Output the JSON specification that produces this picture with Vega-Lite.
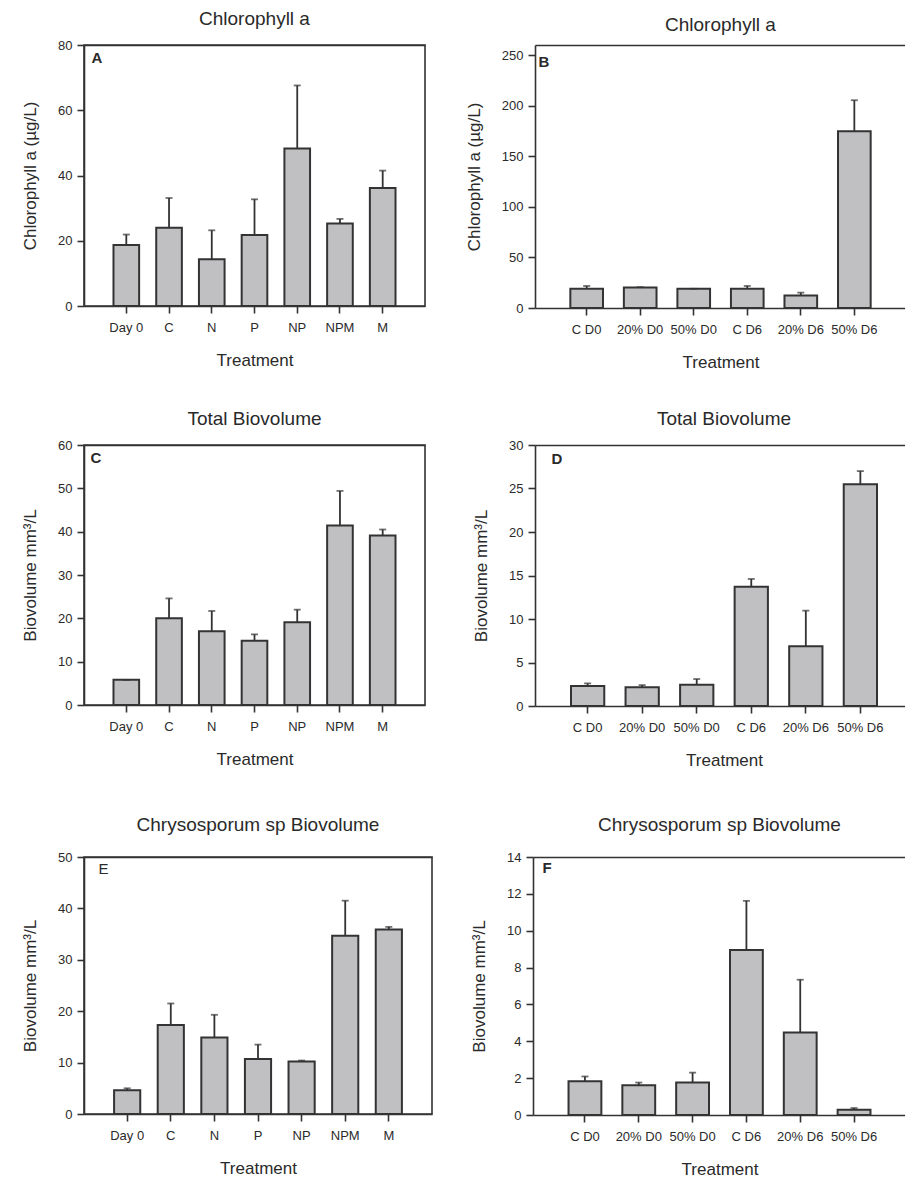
{
  "$schema": "https://vega.github.io/schema/vega-lite/v6.json",
  "padding": {"left": 20, "top": 9, "right": 0, "bottom": 0},
  "background": "white",
  "config": {
    "font": "Liberation Sans",
    "view": {"stroke": null},
    "title": {"fontSize": 19, "fontWeight": "normal", "color": "#2a2a2a", "frame": "group", "offset": 10},
    "axis": {"grid": false, "labelOverlap": false, "labelFontSize": 13, "titleFontSize": 17, "titleFontWeight": "normal", "labelColor": "#2a2a2a", "titleColor": "#2a2a2a", "domainColor": "#333333", "domainWidth": 1.6, "tickColor": "#333333", "tickWidth": 1.6, "tickSize": 7},
    "axisX": {"labelAngle": 0, "labelPadding": 8, "titlePadding": 18},
    "axisY": {"labelPadding": 5, "titlePadding": 18}
  },
  "datasets": {
    "A": [
      {"treatment": "Day 0", "mean": 18.7, "upper": 21.9},
      {"treatment": "C", "mean": 24.0, "upper": 33.1},
      {"treatment": "N", "mean": 14.3, "upper": 23.2},
      {"treatment": "P", "mean": 21.8, "upper": 32.7},
      {"treatment": "NP", "mean": 48.3, "upper": 67.6},
      {"treatment": "NPM", "mean": 25.3, "upper": 26.7},
      {"treatment": "M", "mean": 36.2, "upper": 41.5}
    ],
    "B": [
      {"treatment": "C D0", "mean": 19.0, "upper": 21.8},
      {"treatment": "20% D0", "mean": 20.3, "upper": 20.6},
      {"treatment": "50% D0", "mean": 19.0, "upper": 19.0},
      {"treatment": "C D6", "mean": 19.0, "upper": 21.8},
      {"treatment": "20% D6", "mean": 12.3, "upper": 15.2},
      {"treatment": "50% D6", "mean": 174.7, "upper": 205.4}
    ],
    "C": [
      {"treatment": "Day 0", "mean": 5.8, "upper": 5.8},
      {"treatment": "C", "mean": 20.0, "upper": 24.6},
      {"treatment": "N", "mean": 17.0, "upper": 21.7},
      {"treatment": "P", "mean": 14.8, "upper": 16.3},
      {"treatment": "NP", "mean": 19.1, "upper": 22.0},
      {"treatment": "NPM", "mean": 41.4, "upper": 49.4},
      {"treatment": "M", "mean": 39.1, "upper": 40.5}
    ],
    "D": [
      {"treatment": "C D0", "mean": 2.3, "upper": 2.6},
      {"treatment": "20% D0", "mean": 2.15, "upper": 2.4},
      {"treatment": "50% D0", "mean": 2.45, "upper": 3.1},
      {"treatment": "C D6", "mean": 13.7, "upper": 14.6},
      {"treatment": "20% D6", "mean": 6.86, "upper": 10.96},
      {"treatment": "50% D6", "mean": 25.5, "upper": 27.0}
    ],
    "E": [
      {"treatment": "Day 0", "mean": 4.6, "upper": 5.0},
      {"treatment": "C", "mean": 17.3, "upper": 21.5},
      {"treatment": "N", "mean": 14.9, "upper": 19.3},
      {"treatment": "P", "mean": 10.7, "upper": 13.5},
      {"treatment": "NP", "mean": 10.2, "upper": 10.4},
      {"treatment": "NPM", "mean": 34.7, "upper": 41.5},
      {"treatment": "M", "mean": 35.9, "upper": 36.4}
    ],
    "F": [
      {"treatment": "C D0", "mean": 1.83, "upper": 2.09},
      {"treatment": "20% D0", "mean": 1.61, "upper": 1.76},
      {"treatment": "50% D0", "mean": 1.76, "upper": 2.30},
      {"treatment": "C D6", "mean": 8.96, "upper": 11.62},
      {"treatment": "20% D6", "mean": 4.48, "upper": 7.34},
      {"treatment": "50% D6", "mean": 0.29, "upper": 0.38}
    ]
  },
  "spacing": 39,
  "vconcat": [
    {
      "spacing": 39,
      "hconcat": [
        {
          "width": 341, "height": 261,
          "view": {"stroke": "#333333", "strokeWidth": 1.6},
          "title": {"text": "Chlorophyll a"},
          "data": {"name": "A"},
          "resolve": {"axis": {"x": "independent"}},
          "layer": [
            {"mark": {"type": "bar", "fill": "#c0c0c3", "stroke": "#333333", "strokeWidth": 2},
             "encoding": {
               "x": {"field": "treatment", "type": "nominal", "sort": null, "scale": {"paddingInner": 0.4, "paddingOuter": 0.69}, "axis": {"orient": "bottom", "title": "Treatment"}},
               "y": {"field": "mean", "type": "quantitative", "title": "Chlorophyll a (µg/L)", "scale": {"domain": [0, 80]}, "axis": {"values": [0, 20, 40, 60, 80], "labelOverlap": false}}
             }},
            {"mark": {"type": "rule", "stroke": "#333333", "strokeWidth": 1.8},
             "encoding": {
               "x": {"field": "treatment", "type": "nominal", "sort": null, "axis": {"orient": "top", "labels": false, "ticks": false, "domain": true, "title": "A", "titleX": 7, "titleY": 17, "titleAlign": "left", "titleBaseline": "alphabetic", "titleFontWeight": "bold", "titleFontSize": 15, "titleAngle": 0}},
               "y": {"field": "mean", "type": "quantitative", "title": "Chlorophyll a (µg/L)"},
               "y2": {"field": "upper"}
             }},
            {"mark": {"type": "tick", "color": "#333333", "size": 7, "thickness": 1.8},
             "encoding": {
               "x": {"field": "treatment", "type": "nominal", "sort": null, "axis": null},
               "y": {"field": "upper", "type": "quantitative", "title": "Chlorophyll a (µg/L)"}
             }}
          ]
        },
        {
          "width": 371, "height": 263,
          "title": {"text": "Chlorophyll a"},
          "data": {"name": "B"},
          "resolve": {"axis": {"x": "independent"}},
          "layer": [
            {"mark": {"type": "bar", "fill": "#c0c0c3", "stroke": "#333333", "strokeWidth": 2},
             "encoding": {
               "x": {"field": "treatment", "type": "nominal", "sort": null, "scale": {"paddingInner": 0.39, "paddingOuter": 0.66}, "axis": {"orient": "bottom", "title": "Treatment"}},
               "y": {"field": "mean", "type": "quantitative", "title": "Chlorophyll a (µg/L)", "scale": {"domain": [0, 250]}, "axis": {"values": [0, 50, 100, 150, 200, 250], "labelOverlap": false}}
             }},
            {"mark": {"type": "rule", "stroke": "#333333", "strokeWidth": 1.8},
             "encoding": {
               "x": {"field": "treatment", "type": "nominal", "sort": null, "axis": {"orient": "top", "labels": false, "ticks": false, "domain": true, "title": "B", "titleX": 3, "titleY": 21, "titleAlign": "left", "titleBaseline": "alphabetic", "titleFontWeight": "bold", "titleFontSize": 15, "titleAngle": 0}},
               "y": {"field": "mean", "type": "quantitative", "title": "Chlorophyll a (µg/L)"},
               "y2": {"field": "upper"}
             }},
            {"mark": {"type": "tick", "color": "#333333", "size": 7, "thickness": 1.8},
             "encoding": {
               "x": {"field": "treatment", "type": "nominal", "sort": null, "axis": null},
               "y": {"field": "upper", "type": "quantitative", "title": "Chlorophyll a (µg/L)"}
             }}
          ]
        }
      ]
    },
    {
      "spacing": 47,
      "vconcat": [
        {
          "spacing": 46,
          "hconcat": [
            {
              "width": 341, "height": 260,
              "view": {"stroke": "#333333", "strokeWidth": 1.6},
              "title": {"text": "Total Biovolume"},
              "data": {"name": "C"},
              "resolve": {"axis": {"x": "independent"}},
              "layer": [
                {"mark": {"type": "bar", "fill": "#c0c0c3", "stroke": "#333333", "strokeWidth": 2},
                 "encoding": {
                   "x": {"field": "treatment", "type": "nominal", "sort": null, "scale": {"paddingInner": 0.4, "paddingOuter": 0.69}, "axis": {"orient": "bottom", "title": "Treatment"}},
                   "y": {"field": "mean", "type": "quantitative", "title": "Biovolume mm³/L", "scale": {"domain": [0, 60]}, "axis": {"values": [0, 10, 20, 30, 40, 50, 60], "labelOverlap": false}}
                 }},
                {"mark": {"type": "rule", "stroke": "#333333", "strokeWidth": 1.8},
                 "encoding": {
                   "x": {"field": "treatment", "type": "nominal", "sort": null, "axis": {"orient": "top", "labels": false, "ticks": false, "domain": true, "title": "C", "titleX": 6, "titleY": 17, "titleAlign": "left", "titleBaseline": "alphabetic", "titleFontWeight": "bold", "titleFontSize": 15, "titleAngle": 0}},
                   "y": {"field": "mean", "type": "quantitative", "title": "Biovolume mm³/L"},
                   "y2": {"field": "upper"}
                 }},
                {"mark": {"type": "tick", "color": "#333333", "size": 7, "thickness": 1.8},
                 "encoding": {
                   "x": {"field": "treatment", "type": "nominal", "sort": null, "axis": null},
                   "y": {"field": "upper", "type": "quantitative", "title": "Biovolume mm³/L"}
                 }}
              ]
            },
            {
              "width": 378, "height": 261,
              "title": {"text": "Total Biovolume"},
              "data": {"name": "D"},
              "resolve": {"axis": {"x": "independent"}},
              "layer": [
                {"mark": {"type": "bar", "fill": "#c0c0c3", "stroke": "#333333", "strokeWidth": 2},
                 "encoding": {
                   "x": {"field": "treatment", "type": "nominal", "sort": null, "scale": {"paddingInner": 0.39, "paddingOuter": 0.66}, "axis": {"orient": "bottom", "title": "Treatment"}},
                   "y": {"field": "mean", "type": "quantitative", "title": "Biovolume mm³/L", "scale": {"domain": [0, 30]}, "axis": {"values": [0, 5, 10, 15, 20, 25, 30], "labelOverlap": false}}
                 }},
                {"mark": {"type": "rule", "stroke": "#333333", "strokeWidth": 1.8},
                 "encoding": {
                   "x": {"field": "treatment", "type": "nominal", "sort": null, "axis": {"orient": "top", "labels": false, "ticks": false, "domain": true, "title": "D", "titleX": 16, "titleY": 18, "titleAlign": "left", "titleBaseline": "alphabetic", "titleFontWeight": "bold", "titleFontSize": 15, "titleAngle": 0}},
                   "y": {"field": "mean", "type": "quantitative", "title": "Biovolume mm³/L"},
                   "y2": {"field": "upper"}
                 }},
                {"mark": {"type": "tick", "color": "#333333", "size": 7, "thickness": 1.8},
                 "encoding": {
                   "x": {"field": "treatment", "type": "nominal", "sort": null, "axis": null},
                   "y": {"field": "upper", "type": "quantitative", "title": "Biovolume mm³/L"}
                 }}
              ]
            }
          ]
        },
        {
          "spacing": 37,
          "hconcat": [
            {
              "width": 348, "height": 257,
              "view": {"stroke": "#333333", "strokeWidth": 1.6},
              "title": {"text": "Chrysosporum sp Biovolume", "offset": 16},
              "data": {"name": "E"},
              "resolve": {"axis": {"x": "independent"}},
              "layer": [
                {"mark": {"type": "bar", "fill": "#c0c0c3", "stroke": "#333333", "strokeWidth": 2},
                 "encoding": {
                   "x": {"field": "treatment", "type": "nominal", "sort": null, "scale": {"paddingInner": 0.4, "paddingOuter": 0.69}, "axis": {"orient": "bottom", "title": "Treatment"}},
                   "y": {"field": "mean", "type": "quantitative", "title": "Biovolume mm³/L", "scale": {"domain": [0, 50]}, "axis": {"values": [0, 10, 20, 30, 40, 50], "labelOverlap": false}}
                 }},
                {"mark": {"type": "rule", "stroke": "#333333", "strokeWidth": 1.8},
                 "encoding": {
                   "x": {"field": "treatment", "type": "nominal", "sort": null, "axis": {"orient": "top", "labels": false, "ticks": false, "domain": true, "title": "E", "titleX": 14, "titleY": 16, "titleAlign": "left", "titleBaseline": "alphabetic", "titleFontWeight": "normal", "titleFontSize": 15, "titleAngle": 0}},
                   "y": {"field": "mean", "type": "quantitative", "title": "Biovolume mm³/L"},
                   "y2": {"field": "upper"}
                 }},
                {"mark": {"type": "tick", "color": "#333333", "size": 7, "thickness": 1.8},
                 "encoding": {
                   "x": {"field": "treatment", "type": "nominal", "sort": null, "axis": null},
                   "y": {"field": "upper", "type": "quantitative", "title": "Biovolume mm³/L"}
                 }}
              ]
            },
            {
              "width": 373, "height": 258,
              "title": {"text": "Chrysosporum sp Biovolume", "offset": 16},
              "data": {"name": "F"},
              "resolve": {"axis": {"x": "independent"}},
              "layer": [
                {"mark": {"type": "bar", "fill": "#c0c0c3", "stroke": "#333333", "strokeWidth": 2},
                 "encoding": {
                   "x": {"field": "treatment", "type": "nominal", "sort": null, "scale": {"paddingInner": 0.39, "paddingOuter": 0.66}, "axis": {"orient": "bottom", "title": "Treatment"}},
                   "y": {"field": "mean", "type": "quantitative", "title": "Biovolume mm³/L", "scale": {"domain": [0, 14]}, "axis": {"values": [0, 2, 4, 6, 8, 10, 12, 14], "labelOverlap": false, "tickCount": 8}}
                 }},
                {"mark": {"type": "rule", "stroke": "#333333", "strokeWidth": 1.8},
                 "encoding": {
                   "x": {"field": "treatment", "type": "nominal", "sort": null, "axis": {"orient": "top", "labels": false, "ticks": false, "domain": true, "title": "F", "titleX": 9, "titleY": 15, "titleAlign": "left", "titleBaseline": "alphabetic", "titleFontWeight": "bold", "titleFontSize": 15, "titleAngle": 0}},
                   "y": {"field": "mean", "type": "quantitative", "title": "Biovolume mm³/L"},
                   "y2": {"field": "upper"}
                 }},
                {"mark": {"type": "tick", "color": "#333333", "size": 7, "thickness": 1.8},
                 "encoding": {
                   "x": {"field": "treatment", "type": "nominal", "sort": null, "axis": null},
                   "y": {"field": "upper", "type": "quantitative", "title": "Biovolume mm³/L"}
                 }}
              ]
            }
          ]
        }
      ]
    }
  ]
}
